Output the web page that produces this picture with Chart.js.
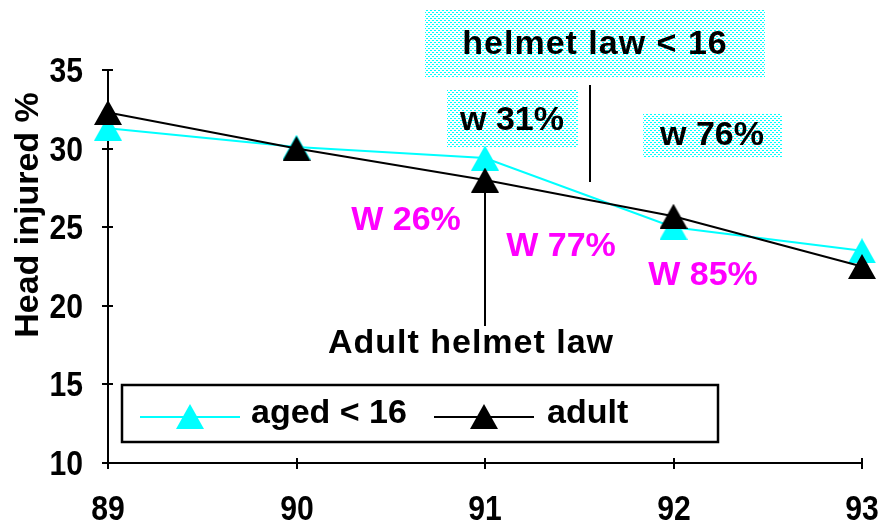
<!DOCTYPE html>
<html>
<head>
<meta charset="utf-8">
<script src="https://cdn.jsdelivr.net/npm/chart.js@4/dist/chart.umd.min.js"></script>
<style>
  html, body { margin: 0; padding: 0; background: #ffffff; }
  #wrap { width: 879px; height: 525px; position: relative; }
</style>
</head>
<body>
<div id="wrap"><canvas id="c" width="879" height="525"></canvas></div>
<script>
// ---- data ----
const years = [89, 90, 91, 92, 93];
const aged16 = [31.3, 30.1, 29.4, 25.0, 23.5];
const adult = [32.3, 30.0, 28.0, 25.7, 22.5];
const seriesLabels = ['aged < 16', 'adult'];
const yTickValues = [10, 15, 20, 25, 30, 35];
const xTickValues = [89, 90, 91, 92, 93];
const yTitle = 'Head injured %';

const TEXT_FONT = '"Liberation Sans", Arial, sans-serif';

// dotted cyan fill pattern
const pc = document.createElement('canvas');
pc.width = 4; pc.height = 4;
const pctx = pc.getContext('2d');
pctx.fillStyle = '#ffffff'; pctx.fillRect(0, 0, 4, 4);
pctx.fillStyle = '#00ffff';
pctx.fillRect(0, 0, 2, 1); pctx.fillRect(2, 2, 2, 1);

// triangle marker images (centred on their bounding box, like the original)
function triangleMarker(color) {
  const c = document.createElement('canvas');
  c.width = 28; c.height = 25;
  const t = c.getContext('2d');
  t.fillStyle = color;
  t.beginPath();
  t.moveTo(14, 0);
  t.lineTo(28, 25);
  t.lineTo(0, 25);
  t.closePath();
  t.fill();
  return c;
}
const cyanTri = triangleMarker('#00ffff');
const blackTri = triangleMarker('#000000');

// condensed bold label text (narrow digits like the original)
function narrowText(ctx, text, x, y, align) {
  const sx = 0.86;
  ctx.save();
  ctx.font = 'bold 35px ' + TEXT_FONT;
  ctx.textBaseline = 'alphabetic';
  ctx.fillStyle = '#000000';
  const w = ctx.measureText(text).width * sx;
  let left = x;
  if (align === 'right') left = x - w;
  else if (align === 'center') left = x - w / 2;
  ctx.translate(left, y);
  ctx.scale(sx, 1);
  ctx.textAlign = 'left';
  ctx.fillText(text, 0, 0);
  ctx.restore();
}

const annotations = {
  id: 'annotations',
  beforeDatasetsDraw(chart) {
    const ctx = chart.ctx;
    const xs = chart.scales.x, ys = chart.scales.y;
    const pat = ctx.createPattern(pc, 'repeat');
    ctx.save();
    // boxes
    ctx.fillStyle = pat;
    ctx.fillRect(425, 10, 340, 68);
    ctx.fillRect(447, 90, 131, 58);
    ctx.fillRect(643, 113, 139, 44);
    // vertical marker lines
    ctx.strokeStyle = '#000000';
    ctx.lineWidth = 2;
    const x91 = Math.round(xs.getPixelForValue(91));
    ctx.beginPath();
    ctx.moveTo(x91, ys.getPixelForValue(adult[2]));
    ctx.lineTo(x91, 326);
    ctx.stroke();
    ctx.beginPath();
    ctx.moveTo(590, 85);
    ctx.lineTo(590, 182);
    ctx.stroke();
    // texts
    ctx.textAlign = 'center';
    ctx.textBaseline = 'middle';
    ctx.fillStyle = '#000000';
    ctx.font = 'bold 34px ' + TEXT_FONT;
    try { ctx.letterSpacing = '1px'; } catch (e) {}
    ctx.fillText('helmet law < 16', 595, 45);
    ctx.fillText('Adult helmet law', 471, 344);
    try { ctx.letterSpacing = '0px'; } catch (e) {}
    ctx.fillText('w 31%', 512, 121);
    ctx.fillText('w 76%', 712, 136);
    ctx.fillStyle = '#ff00ff';
    ctx.fillText('W 26%', 406, 221);
    ctx.fillText('W 77%', 561, 247);
    ctx.fillText('W 85%', 703, 276);
    ctx.restore();
  },
  afterDraw(chart) {
    const ctx = chart.ctx;
    const xs = chart.scales.x, ys = chart.scales.y;
    const area = chart.chartArea;
    ctx.save();
    ctx.strokeStyle = '#000000';
    ctx.lineWidth = 2;
    // tick marks crossing the axes + tick labels
    yTickValues.forEach(v => {
      const y = Math.round(ys.getPixelForValue(v));
      ctx.beginPath(); ctx.moveTo(area.left - 6, y); ctx.lineTo(area.left + 5, y); ctx.stroke();
      narrowText(ctx, String(v), area.left - 25, y + 12, 'right');
    });
    xTickValues.forEach(v => {
      const x = Math.round(xs.getPixelForValue(v));
      ctx.beginPath(); ctx.moveTo(x, area.bottom - 5); ctx.lineTo(x, area.bottom + 6); ctx.stroke();
      narrowText(ctx, String(v), x, 520, 'center');
    });
    // y title
    ctx.save();
    ctx.translate(29, 215);
    ctx.rotate(-Math.PI / 2);
    ctx.fillStyle = '#000000';
    ctx.font = 'bold 34px ' + TEXT_FONT;
    ctx.textAlign = 'center';
    ctx.textBaseline = 'middle';
    ctx.fillText(yTitle, 0, 0);
    ctx.restore();
    // legend
    ctx.fillStyle = '#ffffff';
    ctx.fillRect(122, 385, 596, 57);
    ctx.lineWidth = 2.5;
    ctx.strokeStyle = '#000000';
    ctx.strokeRect(122, 385, 596, 57);
    const ds = chart.data.datasets;
    const items = [
      { ds: ds[0], x0: 140, x1: 240, tx: 251 },
      { ds: ds[1], x0: 434, x1: 534, tx: 547 }
    ];
    items.forEach(it => {
      const ly = 417;
      ctx.strokeStyle = it.ds.borderColor;
      ctx.lineWidth = 2;
      ctx.beginPath(); ctx.moveTo(it.x0, ly); ctx.lineTo(it.x1, ly); ctx.stroke();
      const cx = (it.x0 + it.x1) / 2;
      const img = it.ds.pointStyle;
      ctx.drawImage(img, Math.round(cx - img.width / 2), Math.round(ly - 13));
      ctx.fillStyle = '#000000';
      ctx.font = 'bold 34px ' + TEXT_FONT;
      ctx.textAlign = 'left';
      ctx.textBaseline = 'middle';
      ctx.fillText(it.ds.label, it.tx, 414);
    });
    ctx.restore();
  }
};

const toPoints = arr => years.map((yr, i) => ({ x: yr, y: arr[i] }));

new Chart(document.getElementById('c'), {
  type: 'line',
  data: {
    datasets: [
      {
        label: seriesLabels[0],
        data: toPoints(aged16),
        borderColor: '#00ffff',
        backgroundColor: '#00ffff',
        pointBackgroundColor: '#00ffff',
        pointBorderColor: '#00ffff',
        pointStyle: cyanTri,
        pointRadius: 14,
        pointBorderWidth: 0,
        borderWidth: 2,
        tension: 0,
        clip: false,
        order: 2
      },
      {
        label: seriesLabels[1],
        data: toPoints(adult),
        borderColor: '#000000',
        backgroundColor: '#000000',
        pointBackgroundColor: '#000000',
        pointBorderColor: '#000000',
        pointStyle: blackTri,
        pointRadius: 14,
        pointBorderWidth: 0,
        borderWidth: 2,
        tension: 0,
        clip: false,
        order: 1
      }
    ]
  },
  options: {
    responsive: false,
    animation: false,
    devicePixelRatio: 1,
    layout: { padding: { top: 70, right: 17, left: 0, bottom: 0 } },
    plugins: { legend: { display: false }, tooltip: { enabled: false } },
    scales: {
      x: {
        type: 'linear',
        min: 89, max: 93,
        afterFit(s) { s.height = 62; },
        afterBuildTicks(s) { s.ticks = xTickValues.map(v => ({ value: v })); },
        grid: { display: false, drawTicks: false },
        border: { display: true, color: '#000000', width: 2 },
        ticks: { display: false }
      },
      y: {
        type: 'linear',
        min: 10, max: 35,
        afterFit(s) { s.width = 108; },
        afterBuildTicks(s) { s.ticks = yTickValues.map(v => ({ value: v })); },
        grid: { display: false, drawTicks: false },
        border: { display: true, color: '#000000', width: 2 },
        ticks: { display: false }
      }
    }
  },
  plugins: [annotations]
});
</script>
</body>
</html>
